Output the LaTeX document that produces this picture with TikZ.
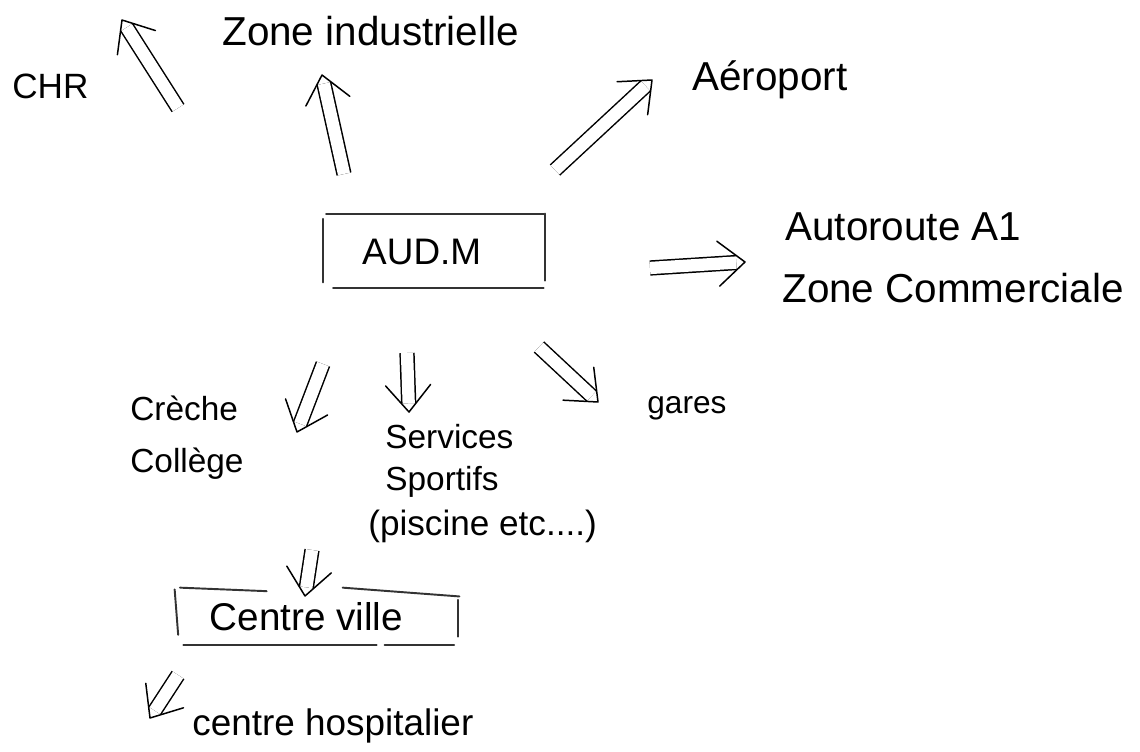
\documentclass[tikz,border=0pt]{standalone}
\usepackage{fontspec}
\setmainfont{Liberation Sans}
\usetikzlibrary{calc}

\begin{document}
\begin{tikzpicture}[font=\fontsize{23}{27}\selectfont,
  dbl/.style={double, double distance=7pt, line width=0.85pt, shorten >=5pt},
  head/.style={line width=0.85pt, line join=round, line cap=round},
  side/.style={line width=1.1pt, black!80, line cap=round},
  lbl/.style={inner sep=0pt, anchor=base west}]
  \useasboundingbox (0,0) rectangle (22.8,-15.04);
  % centre
  \node[minimum width=4.44cm, minimum height=1.5cm, font=\fontsize{21}{25}\selectfont] (aud) at (8.68,-5.03) {AUD.M\kern14pt};
  \draw[side] ([xshift=2pt]aud.north west) -- ([xshift=-1pt]aud.north east);
  \draw[side] ([yshift=-3pt]aud.north west) -- ([yshift=4pt]aud.south west);
  \draw[side] ([xshift=6pt,yshift=1pt]aud.south west) -- ([xshift=-1pt,yshift=1pt]aud.south east);
  \draw[side] (aud.north east) -- ([yshift=5pt]aud.south east);
  % up
  \node[lbl, font=\fontsize{20}{24}\selectfont] (chr) at (0.24,-1.96) {CHR};
  \node[lbl] (zi) at (4.44,-0.9) {Zone industrielle};
  \node[lbl] (aero) at (13.84,-1.8) {Aéroport};
  % right
  \node[lbl] (auto) at (15.7,-4.8) {Autoroute A1};
  \node[lbl] (zc) at (15.64,-6.04) {Zone Commerciale};
  % down
  \node[lbl, font=\fontsize{19}{23}\selectfont] (creche) at (2.6,-8.4) {Crèche};
  \node[lbl, font=\fontsize{19}{23}\selectfont] (college) at (2.6,-9.44) {Collège};
  \node[lbl, font=\fontsize{19}{23}\selectfont] (serv) at (7.7,-8.96) {Services};
  \node[lbl, font=\fontsize{19}{23}\selectfont] (sport) at (7.7,-9.8) {Sportifs};
  \node[lbl, font=\fontsize{20}{24}\selectfont] (pisc) at (7.36,-10.7) {(piscine etc....)};
  \node[lbl, font=\fontsize{18}{22}\selectfont] (gares) at (12.94,-8.26) {gares};
  % centre ville
  \node[minimum width=5.68cm, minimum height=1.14cm, font=\fontsize{22}{26}\selectfont] (cv) at (6.34,-12.33) {Centre ville\kern12pt};
  \draw[side] ([xshift=3pt]cv.north west) -- ([xshift=1.84cm,yshift=-2pt]cv.north west);
  \draw[side] ([xshift=3.36cm]cv.north west) -- ([yshift=-5pt]cv.north east);
  \draw[side] ([yshift=-1pt]cv.north west) -- ([xshift=2pt,yshift=6pt]cv.south west);
  \draw[side] ([xshift=5pt]cv.south west) -- ([xshift=4.04cm]cv.south west);
  \draw[side] ([xshift=4.2cm]cv.south west) -- ([xshift=-3pt]cv.south east);
  \draw[side] ([xshift=-1pt,yshift=-7pt]cv.north east) -- ([xshift=-1pt,yshift=5pt]cv.south east);
  \node[lbl, font=\fontsize{21}{25}\selectfont] (hosp) at (3.84,-14.7) {centre hospitalier};
  % arrows
  \foreach \n/\s/\t in {chr/{3.56,-2.16}/{2.44,-0.4}, zi/{6.88,-3.48}/{6.44,-1.5},
      aero/{11.1,-3.4}/{13.04,-1.6}, auto/{13.0,-5.36}/{14.9,-5.24},
      creche/{6.46,-7.28}/{5.94,-8.64}, serv/{8.14,-7.06}/{8.18,-8.24},
      gares/{10.78,-6.94}/{11.96,-8.04}, cv/{6.24,-11.0}/{6.1,-11.92},
      hosp/{3.56,-13.5}/{3.0,-14.36}}
    {\coordinate (\n-s) at (\s);
     \coordinate (\n-t) at (\t);
     \draw[dbl] (\n-s) -- (\n-t);
     \draw[head] ($(\n-t)!0.7cm!40:(\n-s)$) -- (\n-t) -- ($(\n-t)!0.7cm!-40:(\n-s)$);}
\end{tikzpicture}
\end{document}
